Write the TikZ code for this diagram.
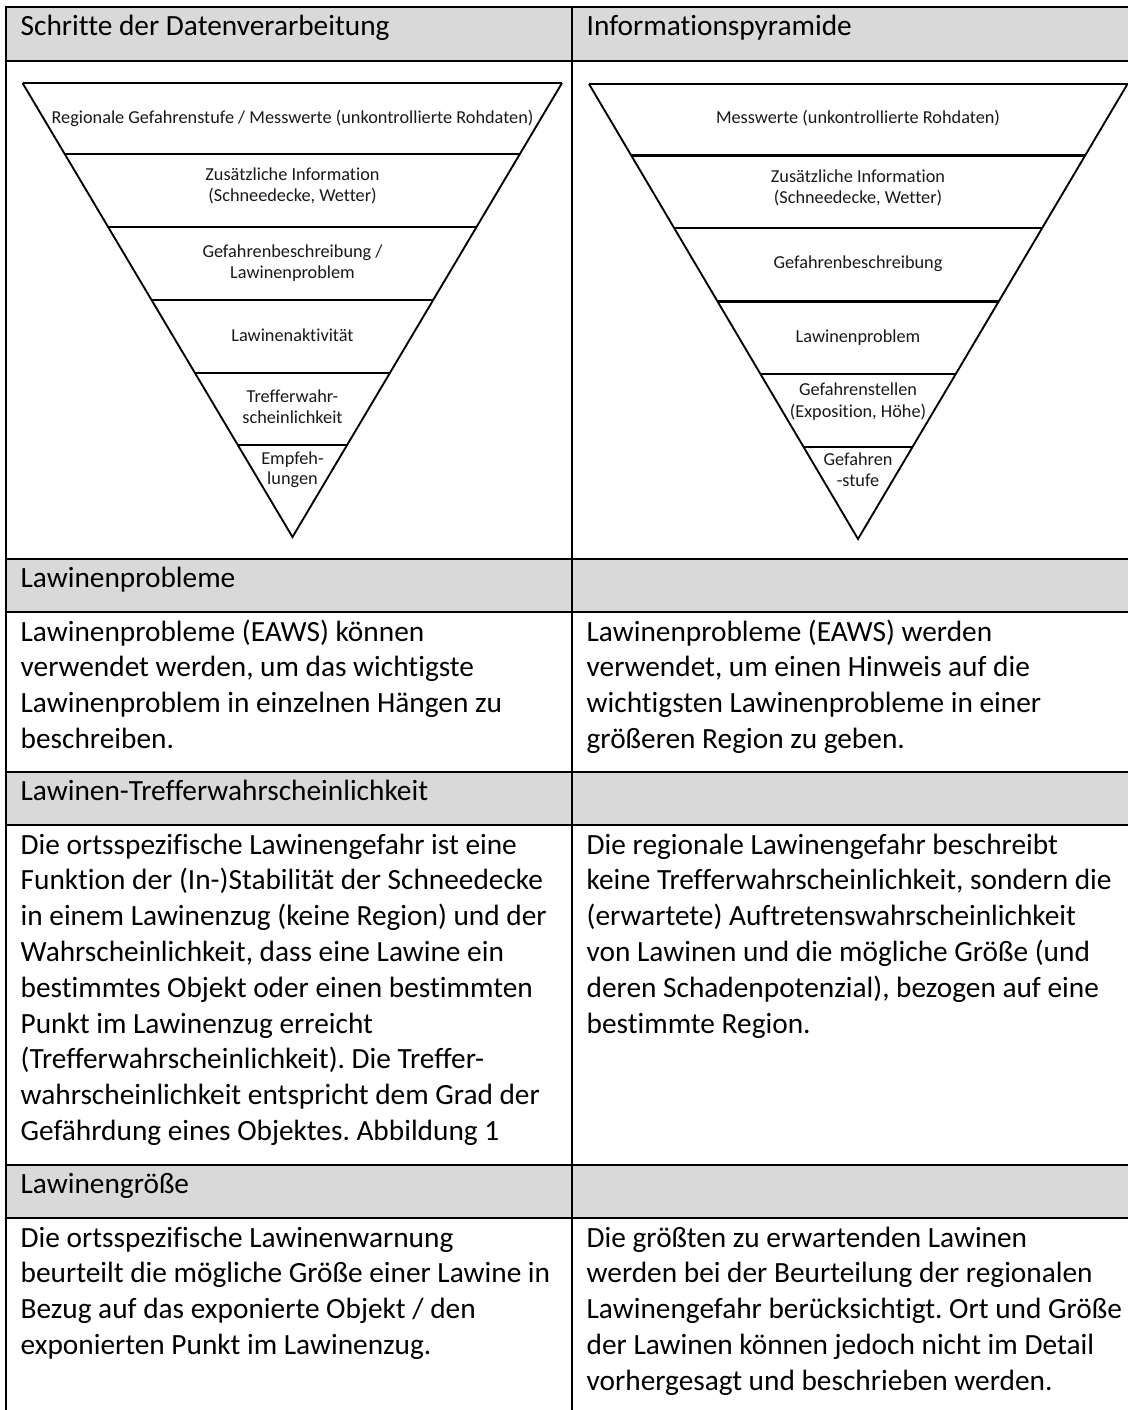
\documentclass[tikz,border=0pt]{standalone}
\usepackage{fontspec}
\setmainfont[Ligatures={NoCommon}]{Carlito}
\usetikzlibrary{calc}
\definecolor{headgray}{HTML}{D9D9D9}
\newcommand{\bodyfont}{\fontsize{22}{26.85}\selectfont}
\newcommand{\pyrfont}{\fontsize{13.7}{16.2}\selectfont}
\newcommand{\celllines}[4]{%
  \foreach \lineT [count=\i] in {#4} {\node[bodytext] (#1-\i) at (#2,{#3+35.8*(\i-1)}) {\lineT};}%
}
\frenchspacing
\begin{document}
\begin{tikzpicture}[x=0.75pt,y=-0.75pt,
  hline/.style={line width=2pt},
  vline/.style={line width=1.7pt},
  pyredge/.style={line width=1.4pt,line join=miter},
  pyrtop/.style={line width=2pt},
  pyrdiv/.style={line width=1.7pt},
  bodytext/.style={anchor=base west,inner sep=0pt,font=\bodyfont},
  pyrtext/.style={anchor=base,inner sep=0pt,font=\pyrfont,text=black!90}]
\useasboundingbox (0,0) rectangle (1128,1410);
\clip (0,0) rectangle (1128,1410);
\fill[white] (0,0) rectangle (1128,1410);
% gray header rows
\fill[headgray] (6,7) rectangle (1140,61);
\fill[headgray] (6,559) rectangle (1140,612);
\fill[headgray] (6,772) rectangle (1140,825);
\fill[headgray] (6,1165) rectangle (1140,1218);
% horizontal rules
\foreach \yy in {7,61,559,612,772,825,1165,1218}
  \draw[hline] (4.9,\yy) -- (1140,\yy);
% vertical rules
\draw[vline] (6,5.7) -- (6,1420);
\draw[vline] (572,5.7) -- (572,1420);

% header texts
\node[bodytext] (h1) at (20.4,35) {Schritte der Datenverarbeitung};
\node[bodytext] (h2) at (586.4,35) {Informationspyramide};
\node[bodytext] (g1) at (20.4,587) {Lawinenprobleme};
\node[bodytext] (g2) at (20.4,800) {Lawinen-Trefferwahrscheinlichkeit};
\node[bodytext] (g3) at (20.4,1193) {Lawinengröße};

% row 1
\celllines{r1l}{20.4}{641}{{Lawinenprobleme (EAWS) können},{verwendet werden, um das wichtigste},{Lawinenproblem in einzelnen Hängen zu},{beschreiben.}}
\celllines{r1r}{586.4}{641}{{Lawinenprobleme (EAWS) werden},{verwendet, um einen Hinweis auf die},{wichtigsten Lawinenprobleme in einer},{größeren Region zu geben.}}
% row 2
\celllines{r2l}{20.4}{854}{{Die ortsspezifische Lawinengefahr ist eine},{Funktion der (In-)Stabilität der Schneedecke},{in einem Lawinenzug (keine Region) und der},{Wahrscheinlichkeit, dass eine Lawine ein},{bestimmtes Objekt oder einen bestimmten},{Punkt im Lawinenzug erreicht},{(Trefferwahrscheinlichkeit). Die Treffer-},{wahrscheinlichkeit entspricht dem Grad der},{Gefährdung eines Objektes. Abbildung 1}}
\celllines{r2r}{586.4}{854}{{Die regionale Lawinengefahr beschreibt},{keine Trefferwahrscheinlichkeit, sondern die},{(erwartete) Auftretenswahrscheinlichkeit},{von Lawinen und die mögliche Größe (und},{deren Schadenpotenzial), bezogen auf eine},{bestimmte Region.}}
% row 3
\celllines{r3l}{20.4}{1247}{{Die ortsspezifische Lawinenwarnung},{beurteilt die mögliche Größe einer Lawine in},{Bezug auf das exponierte Objekt / den},{exponierten Punkt im Lawinenzug.}}
\celllines{r3r}{586.4}{1247}{{Die größten zu erwartenden Lawinen},{werden bei der Beurteilung der regionalen},{Lawinengefahr berücksichtigt. Ort und Größe},{der Lawinen können jedoch nicht im Detail},{vorhergesagt und beschrieben werden.}}

% left pyramid
\coordinate (LA) at (22.5,83);
\coordinate (LB) at (562,83);
\coordinate (LC) at (292.5,537);
\draw[pyredge] (LA) -- (LC) -- (LB);
\draw[pyrtop] (LA) -- (LB);
\foreach \t in {0.157,0.317,0.478,0.638,0.797}
  \draw[pyrdiv] ($(LA)!\t!(LC)$) -- ($(LB)!\t!(LC)$);
\node[pyrtext] (la1) at (292.5,123) {Regionale Gefahrenstufe / Messwerte (unkontrollierte Rohdaten)};
\node[pyrtext] (la2) at (292.5,180) {Zusätzliche Information};
\node[pyrtext] (la3) at (292.5,201) {(Schneedecke, Wetter)};
\node[pyrtext] (la4) at (292.5,257) {Gefahrenbeschreibung /};
\node[pyrtext] (la5) at (292.5,278) {Lawinenproblem};
\node[pyrtext] (la6) at (292.5,341) {Lawinenaktivität};
\node[pyrtext] (la7) at (292.5,402) {Trefferwahr-};
\node[pyrtext] (la8) at (292.5,423) {scheinlichkeit};
\node[pyrtext] (la9) at (292.5,464) {Empfeh-};
\node[pyrtext] (la10) at (292.5,484) {lungen};

% right pyramid
\coordinate (RA) at (589,84);
\coordinate (RB) at (1127.5,84);
\coordinate (RC) at (858,539);
\draw[pyredge] (RA) -- (RC) -- (RB);
\draw[pyrtop] (RA) -- (RB);
\foreach \t in {0.157,0.317,0.478,0.638,0.797}
  \draw[pyrdiv] ($(RA)!\t!(RC)$) -- ($(RB)!\t!(RC)$);
\node[pyrtext] (ra1) at (858,123) {Messwerte (unkontrollierte Rohdaten)};
\node[pyrtext] (ra2) at (858,182) {Zusätzliche Information};
\node[pyrtext] (ra3) at (858,203) {(Schneedecke, Wetter)};
\node[pyrtext] (ra4) at (858,268) {Gefahrenbeschreibung};
\node[pyrtext] (ra5) at (858,342) {Lawinenproblem};
\node[pyrtext] (ra6) at (858,395) {Gefahrenstellen};
\node[pyrtext] (ra7) at (858,417) {(Exposition, Höhe)};
\node[pyrtext] (ra8) at (858,465) {Gefahren};
\node[pyrtext] (ra9) at (858,486) {-stufe};
\end{tikzpicture}
\end{document}
